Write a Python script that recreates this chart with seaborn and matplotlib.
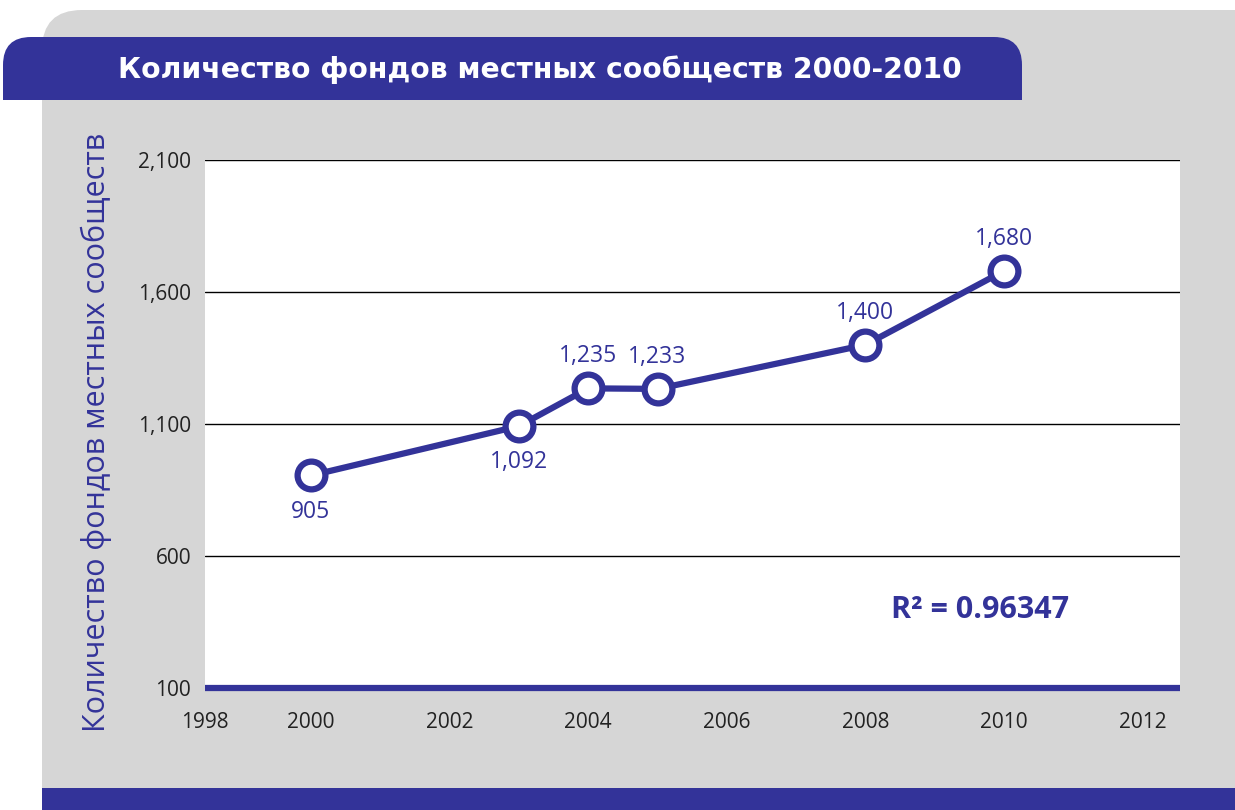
import matplotlib
matplotlib.use("Agg")
import matplotlib.pyplot as plt
from matplotlib.patches import FancyBboxPatch, Rectangle
import seaborn as sns
import pandas as pd

# data
years = [2000, 2003, 2004, 2005, 2008, 2010]
funds = [905, 1092, 1235, 1233, 1400, 1680]
point_labels = ["905", "1,092", "1,235", "1,233", "1,400", "1,680"]
label_below = [True, True, False, False, False, False]
y_ticks = [100, 600, 1100, 1600, 2100]
x_ticks = [2000, 2002, 2004, 2006, 2008, 2010, 2012]
title = "Количество фондов местных сообществ 2000-2010"
ylabel = "Количество фондов местных сообществ"
r2_text = "R² = 0.96347"

BLUE = "#333399"
GRAY = "#d6d6d6"

sns.set_theme(style="white")
plt.rcParams["font.family"] = ["Open Sans", "DejaVu Sans"]

fig = plt.figure(figsize=(12.35, 8.1), dpi=100)
fig.patch.set_facecolor("white")

# background decoration in pixel coordinates
bg = fig.add_axes([0, 0, 1, 1], zorder=0)
bg.set_xlim(0, 1235)
bg.set_ylim(810, 0)
bg.axis("off")
bg.add_patch(FancyBboxPatch((42, 10), 1260, 820, boxstyle="round,pad=0,rounding_size=40",
                            facecolor=GRAY, edgecolor="none"))
bg.add_patch(Rectangle((42, 788), 1200, 30, facecolor=BLUE, edgecolor="none"))
bg.add_patch(FancyBboxPatch((3, 37), 1019, 63, boxstyle="round,pad=0,rounding_size=28",
                            facecolor=BLUE, edgecolor="none"))
bg.add_patch(Rectangle((3, 70), 1019, 30, facecolor=BLUE, edgecolor="none"))
bg.text(118, 70, title, color="white", fontsize=20.3, fontweight="bold",
        family="DejaVu Sans", va="center", ha="left")
bg.text(96, 432, ylabel, color=BLUE, fontsize=22, rotation=90,
        va="center", ha="center")

ax = fig.add_axes([205 / 1235, 1 - 688 / 810, 975 / 1235, 528 / 810], zorder=1)
ax.set_facecolor("white")

df = pd.DataFrame({"year": years, "funds": funds})
sns.lineplot(data=df, x="year", y="funds", ax=ax, color=BLUE, linewidth=4.5,
             marker="o", markersize=20, markerfacecolor="white",
             markeredgecolor=BLUE, markeredgewidth=4.5, zorder=5)

for x, y, lab, below in zip(years, funds, point_labels, label_below):
    ax.annotate(lab, (x, y), xytext=(0, -26 if below else 23), textcoords="offset points",
                ha="center", va="center", color=BLUE, fontsize=16.5)

x_left = 2000 - 106 / 69.35
x_right = 2010 + 176 / 69.35
ax.set_xlim(x_left, x_right)
ax.set_ylim(100, 2100)

ax.set_yticks(y_ticks)
ax.set_yticklabels([f"{v:,}" for v in y_ticks], fontsize=15, color="#222222")
ax.set_xticks([x_left] + x_ticks)
ax.set_xticklabels(["1998"] + [str(v) for v in x_ticks], fontsize=15, color="#222222")
ax.tick_params(axis="both", length=0)
ax.tick_params(axis="x", pad=17)
ax.tick_params(axis="y", pad=10)

for v in y_ticks[1:]:
    ax.axhline(v, color="black", linewidth=1, zorder=1)
ax.axhline(100, color=BLUE, linewidth=4.5, zorder=2, clip_on=False, solid_capstyle="butt")

for s in ax.spines.values():
    s.set_visible(False)
ax.set_xlabel("")
ax.set_ylabel("")

ax.text(0.795, 0.148, r2_text, transform=ax.transAxes, color=BLUE, fontsize=22,
        fontweight="bold", ha="center", va="center")

fig.savefig("out.png", dpi=100, facecolor="white")
